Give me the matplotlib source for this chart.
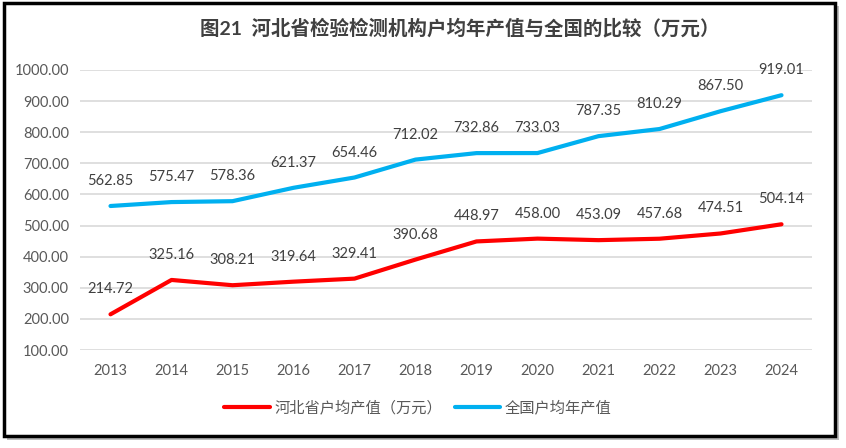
import matplotlib
matplotlib.use('Agg')
import matplotlib.pyplot as plt
from matplotlib.patches import Rectangle

plt.rcParams['font.family'] = ['Lato', 'Noto Sans CJK SC', 'DejaVu Sans']

years = ['2013', '2014', '2015', '2016', '2017', '2018',
         '2019', '2020', '2021', '2022', '2023', '2024']
hebei = [214.72, 325.16, 308.21, 319.64, 329.41, 390.68,
         448.97, 458.00, 453.09, 457.68, 474.51, 504.14]
national = [562.85, 575.47, 578.36, 621.37, 654.46, 712.02,
            732.86, 733.03, 787.35, 810.29, 867.50, 919.01]
yticks = [100, 200, 300, 400, 500, 600, 700, 800, 900, 1000]

title = '图21  河北省检验检测机构户均年产值与全国的比较（万元）'
label_hebei = '河北省户均产值（万元）'
label_nat = '全国户均年产值'

RED = '#FF0000'
BLUE = '#00B0F0'
TXT = '#404040'
TICK = '#595959'

fig = plt.figure(figsize=(8.46, 4.48), dpi=100)

# border with shadow (kept under the axes)
fig.patches.append(Rectangle((7 / 846, 8 / 448), 832 / 846, 434 / 448, transform=fig.transFigure,
                             facecolor='#BDBDBD', edgecolor='none', zorder=-2))
fig.patches.append(Rectangle((4 / 846, 12 / 448), 831 / 846, 433 / 448, transform=fig.transFigure,
                             facecolor='white', edgecolor='black', linewidth=2.5, zorder=-1))

ax = fig.add_axes([80 / 846, 1 - 350 / 448, 732 / 846, 280 / 448])
ax.set_facecolor('none')
x = list(range(len(years)))

ax.plot(x, hebei, color=RED, linewidth=3, solid_capstyle='round', label=label_hebei, zorder=3)
ax.plot(x, national, color=BLUE, linewidth=3, solid_capstyle='round', label=label_nat, zorder=3)

for ys in (hebei, national):
    for xi, yi in zip(x, ys):
        ax.annotate(f'{yi:.2f}', (xi, yi), xytext=(0, 18), textcoords='offset points',
                    ha='center', va='center', fontsize=10.5, color=TXT)

ax.set_xlim(-0.5, len(years) - 0.5)
ax.set_ylim(100, 1000)
ax.set_xticks(x)
ax.set_xticklabels(years)
ax.set_yticks(yticks)
ax.set_yticklabels([f'{v:.2f}' for v in yticks])
ax.tick_params(length=0, labelsize=10.5, colors=TICK)
ax.tick_params(axis='x', pad=10)
ax.tick_params(axis='y', pad=8)
ax.grid(axis='y', color='#D9D9D9', linewidth=1.2)
ax.set_axisbelow(True)
for s in ax.spines.values():
    s.set_visible(False)

fig.text(460 / 846, 1 - 28 / 448, title, ha='center', va='center', fontsize=14,
         fontweight='bold', color=TXT)

fig.legend(loc='center', bbox_to_anchor=(418 / 846, 1 - 408 / 448), ncol=2, frameon=False,
           fontsize=11, handlelength=3, columnspacing=0.8, handletextpad=0.3,
           labelcolor=TICK)

fig.savefig('out.png', dpi=100)
